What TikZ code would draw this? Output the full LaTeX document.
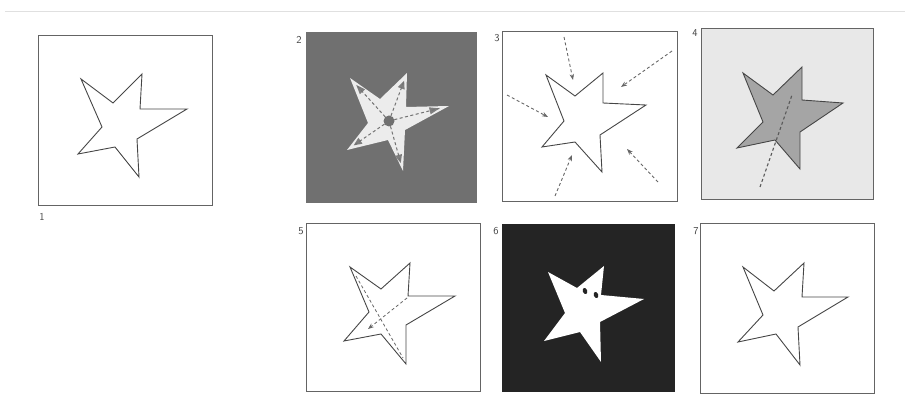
\documentclass[tikz,border=0pt]{standalone}
\usetikzlibrary{arrows.meta,calc}
\definecolor{boxline}{RGB}{100,100,100}
\definecolor{starline}{RGB}{70,70,70}
\definecolor{midgrey}{RGB}{112,112,112}
\definecolor{pale}{RGB}{236,236,236}
\definecolor{lightbg}{RGB}{232,232,232}
\definecolor{stargrey}{RGB}{165,165,165}
\definecolor{nearblack}{RGB}{36,36,36}
\tikzset{
  panel/.style={draw=boxline, line width=1pt},
  starline/.style={draw=starline, line width=0.9pt, line join=miter},
  plabel/.style={font=\sffamily\fontsize{10.5}{12}\selectfont, text=black!75, inner sep=0pt},
  dashline/.style={draw=black!60, line width=0.9pt, dash pattern=on 3pt off 2.5pt},
  darrow/.style={dashline, -{Stealth[length=6pt,width=4.5pt]}},
}
\begin{document}
\begin{tikzpicture}[x=1pt,y=-1pt]
\useasboundingbox (0,0) rectangle (908,398);
\draw[black!12, line width=0.8pt] (5,11) -- (905,11);

% ---- panel 1
\draw[panel] (38,36) rectangle (212,206);
\node[plabel] (l1) at (42,217) {1};
\draw[starline] (81,79) -- (113,103) -- (142,74) -- (140,109) -- (187,109) -- (137,139) -- (139,177) -- (115,147) -- (78,154) -- (102,127) -- cycle;

% ---- panel 2
\fill[midgrey] (306,32) rectangle (477,203);
\node[plabel] (l2) at (299,40) {2};
\fill[pale] (350,78) -- (380,99) -- (407,73) -- (406,107) -- (449,106) -- (405,130) -- (403,171) -- (388,140) -- (347,150) -- (368,123) -- cycle;
\coordinate (c2) at (389,121);
\foreach \tx/\ty in {350/78,407/73,449/106,403/171,347/150}{
  \coordinate (tp) at (\tx,\ty);
  \fill[midgrey!90] ($(c2)!0.84!(tp)$) -- ($(c2)!0.68!(tp)!3.6pt!90:(tp)$) -- ($(c2)!0.68!(tp)!3.6pt!-90:(tp)$) -- cycle;
  \draw[dashline, black!55, line width=1pt] (c2) -- ($(c2)!0.84!(tp)$);
}
\fill[midgrey] (c2) circle (5.5pt);

% ---- panel 3
\draw[panel] (502,32) rectangle (677,202);
\node[plabel] (l3) at (497,38) {3};
\draw[starline] (546,75) -- (575,96) -- (603,73) -- (603,103) -- (646,105) -- (600,135) -- (602,172) -- (575,142) -- (542,147) -- (564,121) -- cycle;
\coordinate (a1s) at (564,37); \coordinate (a1e) at (573,80);
\coordinate (a2s) at (672,51); \coordinate (a2e) at (621,87);
\coordinate (a3s) at (507,95); \coordinate (a3e) at (548,117);
\coordinate (a4s) at (658,182); \coordinate (a4e) at (627,149);
\coordinate (a5s) at (555,196); \coordinate (a5e) at (572,155);
\foreach \s/\e in {a1s/a1e,a2s/a2e,a3s/a3e,a4s/a4e,a5s/a5e}
  \draw[darrow] (\s) -- (\e);

% ---- panel 4
\fill[lightbg] (701,29) rectangle (873,200);
\draw[panel] (701,29) rectangle (873,200);
\node[plabel] (l4) at (695,33) {4};
\draw[starline, fill=stargrey] (743,73) -- (773,95) -- (802,67) -- (802,100) -- (843,103) -- (800,132) -- (800,169) -- (775,140) -- (737,148) -- (763,122) -- cycle;
\coordinate (d4s) at (760,187); \coordinate (d4e) at (792,95);
\draw[dashline, black!65, line width=1.1pt] (d4s) -- (d4e);

% ---- panel 5
\draw[panel] (306,224) rectangle (480,391);
\node[plabel] (l5) at (301,231) {5};
\draw[starline] (350,267) -- (381,289) -- (410,263) -- (408,296) -- (455,296) -- (406,325) -- (406,364) -- (381,334) -- (344,341) -- (369,312) -- cycle;
\coordinate (f5s) at (356,276); \coordinate (f5e) at (403,358);
\draw[dashline, line width=0.8pt] (f5s) -- (f5e);
\coordinate (g5s) at (407,298); \coordinate (g5e) at (368,329);
\draw[darrow, line width=0.8pt] (g5s) -- (g5e);

% ---- panel 6
\fill[nearblack] (502,224) rectangle (675,392);
\node[plabel] (l6) at (496,231) {6};
\fill[white] (548,272) -- (577,288) -- (604,266) -- (601,295) -- (644,299) -- (600,322) -- (601,362) -- (580,332) -- (544,341) -- (565,313) -- cycle;
\fill[nearblack, rotate around={20:(585,291)}] (585,291) ellipse (2.2pt and 3.2pt);
\fill[nearblack, rotate around={20:(596,295)}] (596,295) ellipse (2.2pt and 3.2pt);

% ---- panel 7
\draw[panel] (700,224) rectangle (874,393);
\node[plabel] (l7) at (696,231) {7};
\draw[starline] (743,267) -- (774,291) -- (804,263) -- (802,297) -- (848,297) -- (798,327) -- (800,365) -- (776,334) -- (738,342) -- (763,315) -- cycle;
\end{tikzpicture}
\end{document}
